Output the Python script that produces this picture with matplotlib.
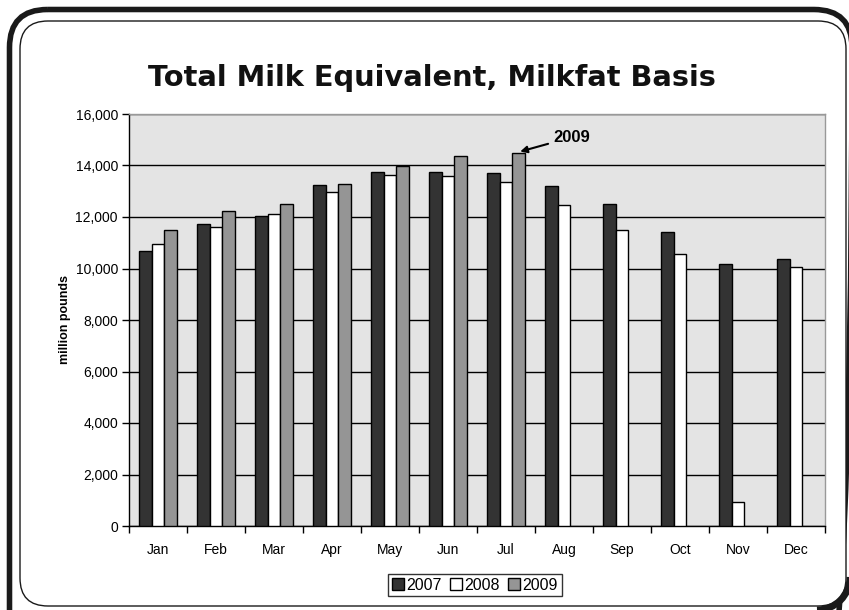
import numpy as np
import matplotlib
matplotlib.use("Agg")
import matplotlib.pyplot as plt
from matplotlib.patches import FancyBboxPatch, Arc
from matplotlib.ticker import FuncFormatter, MultipleLocator

months = ["Jan", "Feb", "Mar", "Apr", "May", "Jun", "Jul", "Aug", "Sep", "Oct", "Nov", "Dec"]
v2007 = [10680, 11730, 12030, 13240, 13760, 13760, 13710, 13190, 12490, 11420, 10160, 10360]
v2008 = [10940, 11600, 12120, 12980, 13640, 13610, 13370, 12470, 11500, 10580, 950, 10060]
v2009 = [11500, 12250, 12490, 13280, 13980, 14360, 14480, np.nan, np.nan, np.nan, np.nan, np.nan]
series_labels = ["2007", "2008", "2009"]
title = "Total Milk Equivalent, Milkfat Basis"
ylabel = "million pounds"

W, H = 849, 610
fig = plt.figure(figsize=(W / 100, H / 100), dpi=100)
fig.patch.set_facecolor("white")

# Frame (background axes in pixel coords)
bg = fig.add_axes([0, 0, 1, 1], zorder=0)
bg.set_xlim(0, W)
bg.set_ylim(H, 0)
bg.axis("off")
outer = FancyBboxPatch((9.5, 9.5), 852 - 9.5, 720,
                       boxstyle="round,pad=0,rounding_size=38",
                       fc="none", ec="#1a1a1a", lw=4.0, clip_on=True)
bg.add_patch(outer)
inner = FancyBboxPatch((20, 21), 826, 585,
                       boxstyle="round,pad=0,rounding_size=28",
                       fc="white", ec="#1a1a1a", lw=1.0, clip_on=False)
bg.add_patch(inner)
shadow = Arc((817, 577), 2 * 33, 2 * 33, theta1=0, theta2=90,
             color="#1a1a1a", lw=5)
bg.add_patch(shadow)

fig.text(432 / W, 1 - 78 / H, title, ha="center", va="center",
         fontsize=20.8, fontweight="bold", family="DejaVu Sans", color="#111111")

ax = fig.add_axes([129 / W, 1 - 526 / H, (825 - 129) / W, (526 - 114) / H], zorder=1)
ax.set_facecolor("#e4e4e4")

x = np.arange(len(months))
bw = 0.224
colors = ["#333333", "#ffffff", "#959595"]
data = [v2007, v2008, v2009]
for i, (vals, c, lab) in enumerate(zip(data, colors, series_labels)):
    ax.bar(x + (i - 1) * bw, vals, width=bw, color=c, edgecolor="black",
           linewidth=1.0, label=lab, zorder=3)

ax.set_xlim(-0.5, len(months) - 0.5)
ax.set_ylim(0, 16000)
ax.yaxis.set_major_locator(MultipleLocator(2000))
ax.yaxis.set_major_formatter(FuncFormatter(lambda v, p: f"{int(v):,}"))
ax.grid(axis="y", color="black", lw=1.0, zorder=1)
ax.set_axisbelow(True)

ax.set_xticks(x)
ax.set_xticklabels(months, fontsize=10, family="Liberation Sans")
ax.set_xticks(np.arange(-0.5, len(months)), minor=True)
ax.tick_params(axis="x", which="major", length=0, pad=12)
ax.tick_params(axis="x", which="minor", length=5, width=1, direction="out", color="black")
ax.tick_params(axis="y", length=5, width=1, direction="out", labelsize=10, pad=3)
for lab in ax.get_yticklabels():
    lab.set_family("Liberation Sans")

ax.spines["left"].set_color("black")
ax.spines["bottom"].set_color("black")
ax.spines["top"].set_color("#999999")
ax.spines["right"].set_color("#999999")
for s in ax.spines.values():
    s.set_linewidth(1.0)

ax.set_ylabel(ylabel, fontsize=9, fontweight="bold", family="Liberation Sans", labelpad=3)

# Annotation
ax.annotate("2009", xy=(6 + bw + 0.02, v2009[6] + 60), xytext=(6.82, 15100),
            fontsize=12, fontweight="bold", family="Liberation Sans",
            ha="left", va="center",
            arrowprops=dict(arrowstyle="-|>", color="black", lw=1.5,
                            shrinkA=2, shrinkB=0, mutation_scale=10),
            zorder=5)

leg = fig.legend(loc="center", bbox_to_anchor=(475 / W, 1 - 585 / H), ncol=3,
                 frameon=True, fancybox=False, edgecolor="black",
                 prop={"family": "Liberation Sans", "size": 11.5},
                 handlelength=0.75, handleheight=0.75, handletextpad=0.15,
                 columnspacing=0.5, borderpad=0.25, borderaxespad=0)
leg.get_frame().set_linewidth(1.0)

fig.savefig("out.png", dpi=100)
